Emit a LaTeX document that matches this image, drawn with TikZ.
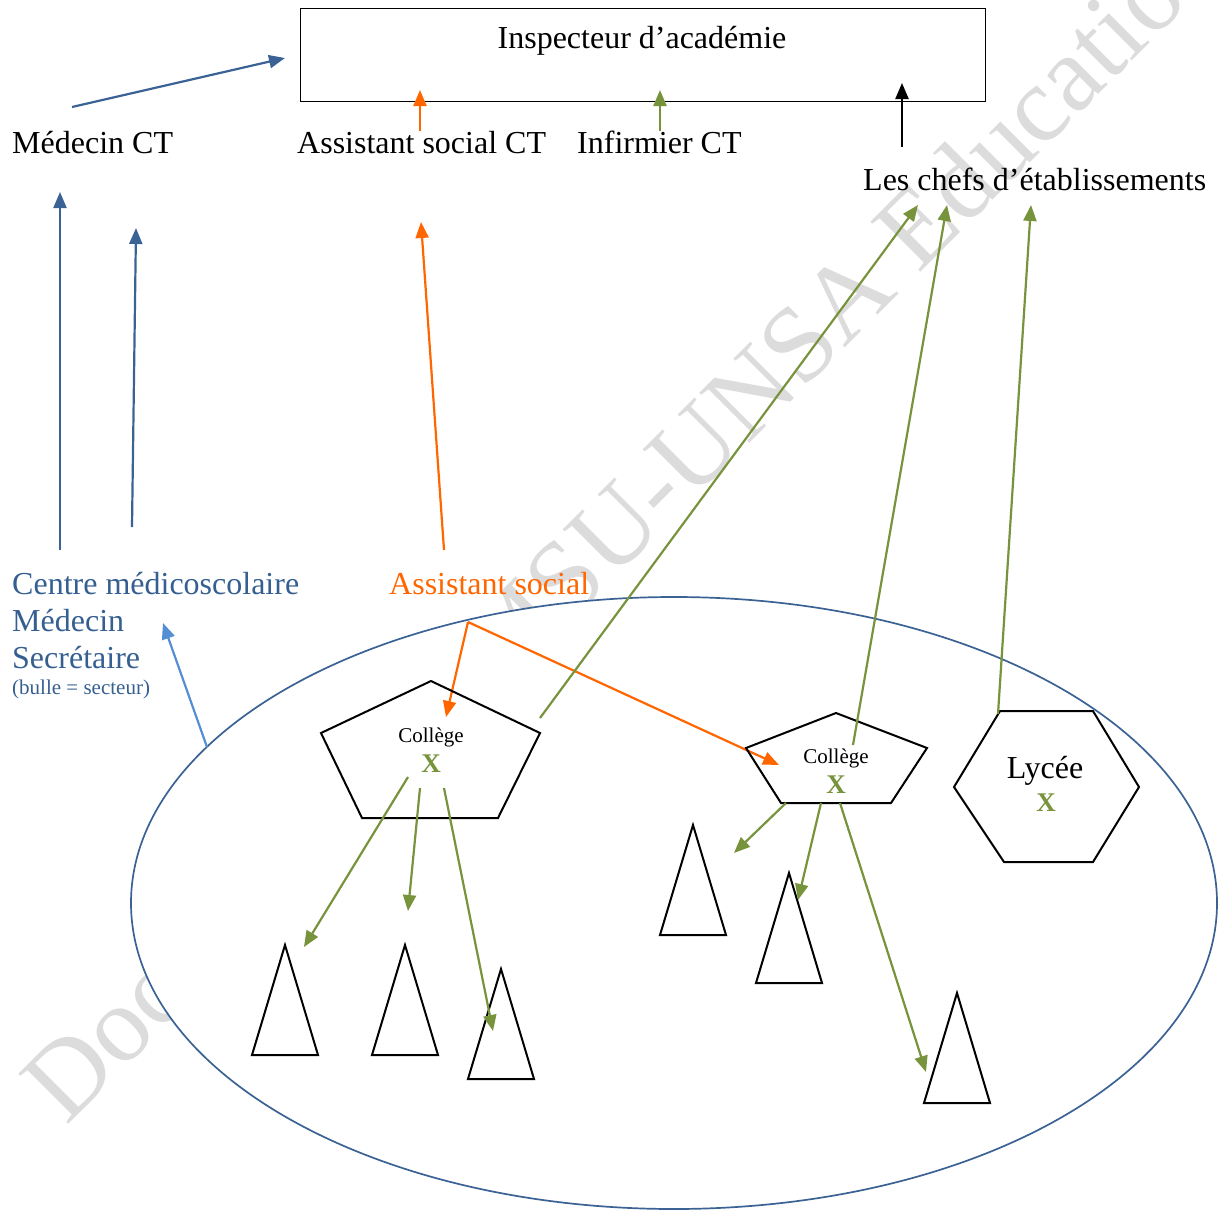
\documentclass[tikz,border=0pt]{standalone}
\usepackage{fontspec}
\setmainfont{Liberation Serif}
\usetikzlibrary{arrows.meta}
\definecolor{dblue}{HTML}{365F91}
\definecolor{ablue}{HTML}{3B6294}
\definecolor{lblue}{HTML}{558ED5}
\definecolor{orng}{HTML}{FF6600}
\definecolor{grn}{HTML}{77933C}
\definecolor{wmgray}{HTML}{DCDCDC}
\begin{document}
\begin{tikzpicture}[x=1pt,y=-1pt,
  arr/.style={-{Triangle[length=16pt,width=13pt]}, line width=2.2pt},
  lbl/.style={inner sep=0pt, anchor=base west, font=\fontsize{32}{38}\selectfont},
  small/.style={inner sep=0pt, anchor=base, font=\fontsize{21}{25}\selectfont},
  bigx/.style={inner sep=0pt, anchor=base, text=grn, font=\fontsize{27}{30}\selectfont\bfseries},
  shapeline/.style={draw=black, line width=2pt, line join=miter}]
\useasboundingbox (0,0) rectangle (1218,1210);

% watermark
\node[rotate=45, anchor=base west, inner sep=0pt, text=wmgray,
      font=\fontsize{108}{108}\selectfont] (wm) at (66,1127) {Document SNMSU-UNSA Education};

% sector bubble
\draw[ablue, line width=1.7pt, fill=white] (674,903) ellipse [x radius=543, y radius=306];

% top box
\node[draw, line width=1.3pt, inner sep=0pt, minimum width=685pt, minimum height=93pt,
      anchor=north west] (box) at (300,8) {};
\node[inner sep=0pt, anchor=base, font=\fontsize{32}{38}\selectfont] (boxtext) at (642,48) {Inspecteur d’académie};

% top labels
\node[lbl] (mct) at (12,153) {Médecin CT};
\node[lbl] (asct) at (297,153) {Assistant social CT};
\node[lbl] (ict) at (577,153) {Infirmier CT};
\node[lbl] (chefs) at (863,190) {Les chefs d’établissements};

% middle labels
\node[lbl, text=dblue] (cms) at (12,594) {Centre médicoscolaire};
\node[lbl, text=dblue] (med) at (12,631) {Médecin};
\node[lbl, text=dblue] (sec) at (12,668) {Secrétaire};
\node[inner sep=0pt, anchor=base west, text=dblue, font=\fontsize{21}{25}\selectfont] (bulle) at (12,694) {(bulle = secteur)};
\node[lbl, text=orng] (as) at (389,594) {Assistant social};

% coordinates for connectors
\coordinate (mctA) at (72,107);   \coordinate (boxA) at (285,58);
\coordinate (asctA) at (420,131); \coordinate (boxB) at (420,90);
\coordinate (ictA) at (660,131);  \coordinate (boxC) at (660,90);
\coordinate (chefA) at (902,147); \coordinate (boxD) at (902,83);
\coordinate (cmsA) at (60,550);   \coordinate (mctB) at (60,192);
\coordinate (cmsB) at (132,527);  \coordinate (mctC) at (136,228);
\coordinate (asA) at (444,550);   \coordinate (asctB) at (421,222);
\coordinate (bubA) at (207,747);  \coordinate (medA) at (163,623);
\coordinate (split) at (468,622);
\coordinate (c1in) at (446,717);  \coordinate (c2in) at (779,765);

% arrows to the box
\draw[arr, ablue] (mctA) -- (boxA);
\draw[arr, orng] (asctA) -- (boxB);
\draw[arr, grn] (ictA) -- (boxC);
\draw[arr, black] (chefA) -- (boxD);

% left blue arrows
\draw[arr, ablue] (cmsA) -- (mctB);
\draw[arr, ablue] (cmsB) -- (mctC);
\draw[arr, lblue] (bubA) -- (medA);

% orange
\draw[arr, orng] (asA) -- (asctB);
\draw[arr, orng] (split) -- (c1in);
\draw[arr, orng] (split) -- (c2in);

% college 1 (pentagon)
\draw[shapeline] (431,681) -- (540,733) -- (498,818) -- (362,818) -- (321,733) -- cycle;
\node[small] (col1) at (431,742) {Collège};
\node[bigx] (x1) at (431,772) {X};

% college 2 (pentagon)
\draw[shapeline] (836,713) -- (927,748) -- (891,803) -- (781,803) -- (746,748) -- cycle;
\node[small] (col2) at (836,763) {Collège};
\node[bigx] (x2) at (836,793) {X};

% lycee (hexagon)
\draw[shapeline] (1000,711) -- (1093,711) -- (1139,787) -- (1093,862) -- (1004,862) -- (954,787) -- cycle;
\node[inner sep=0pt, anchor=base, font=\fontsize{32}{38}\selectfont] (lyc) at (1045,778) {Lycée};
\node[bigx] (x3) at (1046,811) {X};

% schools (triangles)
\draw[shapeline] (285,945) -- (318,1055) -- (252,1055) -- cycle;
\draw[shapeline] (405,945) -- (438,1055) -- (372,1055) -- cycle;
\draw[shapeline] (501,969) -- (534,1079) -- (468,1079) -- cycle;
\draw[shapeline] (693,825) -- (726,935) -- (660,935) -- cycle;
\draw[shapeline] (789,873) -- (822,983) -- (756,983) -- cycle;
\draw[shapeline] (957,993) -- (990,1103) -- (924,1103) -- cycle;

% green arrows to chefs
\coordinate (c1up) at (540,718);  \coordinate (chefB) at (918,205);
\coordinate (c2up) at (853,745);  \coordinate (chefC) at (947,205);
\coordinate (lyup) at (998,714);  \coordinate (chefD) at (1031,205);
\draw[arr, grn] (c1up) -- (chefB);
\draw[arr, grn] (c2up) -- (chefC);
\draw[arr, grn] (lyup) -- (chefD);

% green arrows from colleges to schools
\coordinate (c1a) at (408,777);  \coordinate (t1) at (304,947);
\coordinate (c1b) at (420,788);  \coordinate (t2) at (408,911);
\coordinate (c1c) at (444,788);  \coordinate (t3) at (493,1031);
\coordinate (c2a) at (786,803);  \coordinate (t4) at (734,853);
\coordinate (c2b) at (821,803);  \coordinate (t5) at (798,900);
\coordinate (c2c) at (840,803);  \coordinate (t6) at (926,1072);
\draw[arr, grn] (c1a) -- (t1);
\draw[arr, grn] (c1b) -- (t2);
\draw[arr, grn] (c1c) -- (t3);
\draw[arr, grn] (c2a) -- (t4);
\draw[arr, grn] (c2b) -- (t5);
\draw[arr, grn] (c2c) -- (t6);
\end{tikzpicture}
\end{document}
